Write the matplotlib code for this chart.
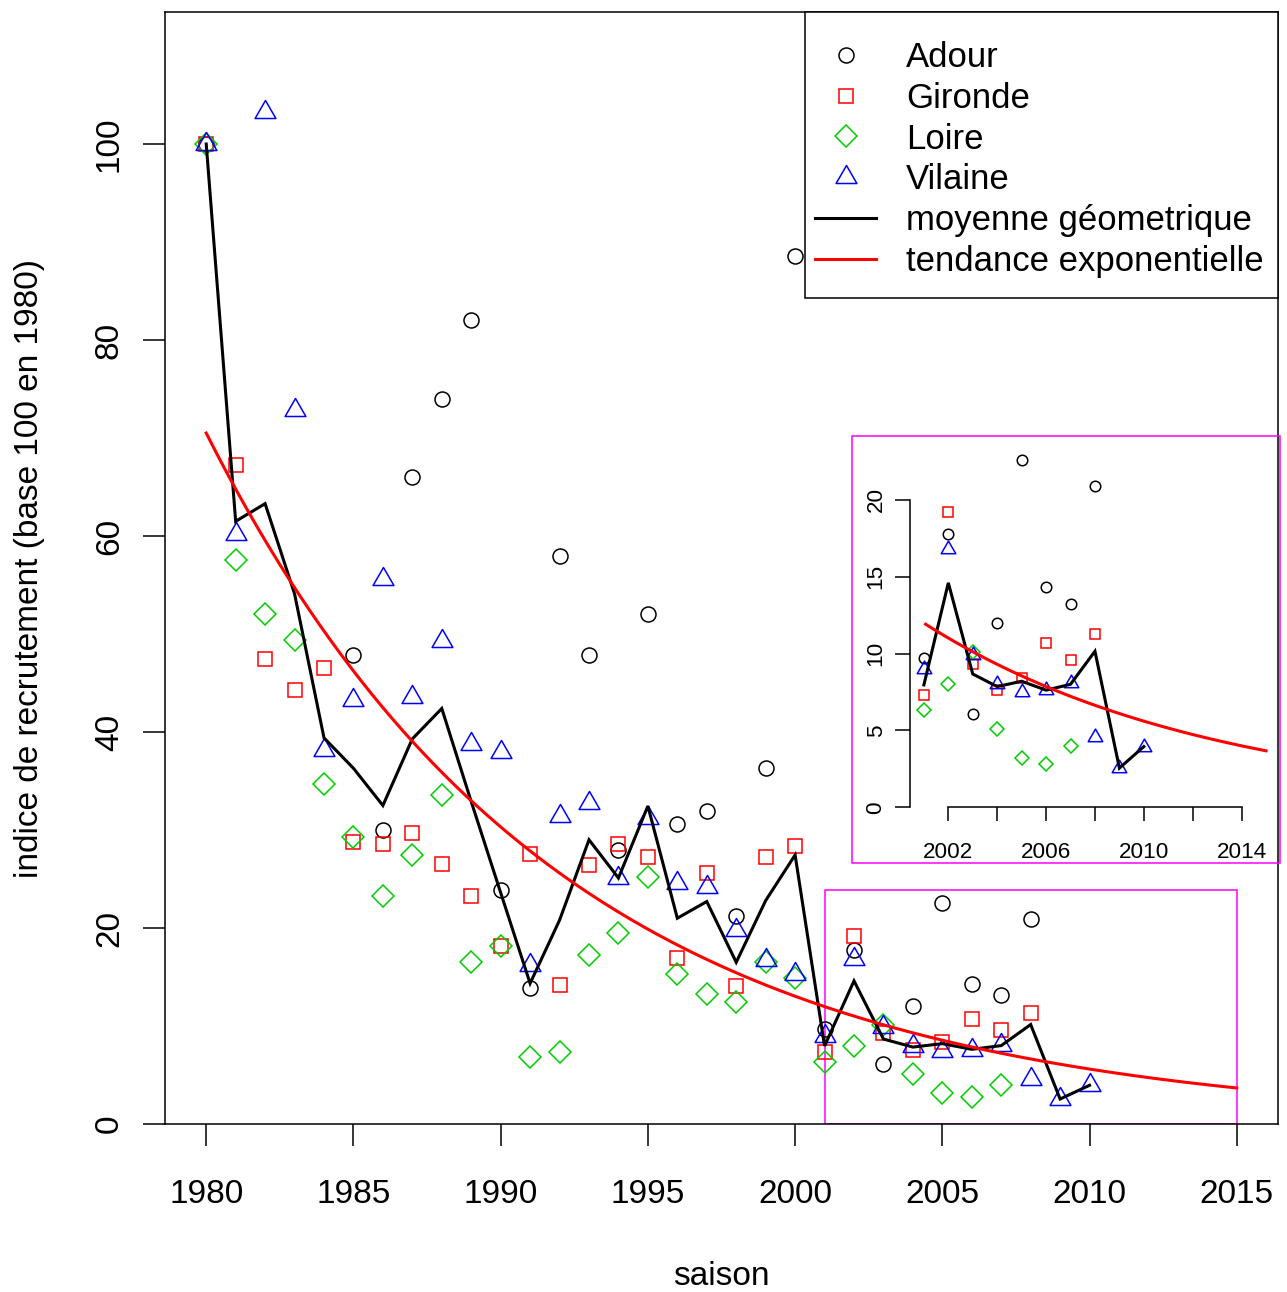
import numpy as np
import matplotlib
matplotlib.use("Agg")
import matplotlib.pyplot as plt
from matplotlib.path import Path
from matplotlib.patches import Rectangle
from matplotlib.lines import Line2D

plt.rcParams['font.family'] = ['Liberation Sans', 'DejaVu Sans']

nan = np.nan
saisons = list(range(1980, 2011))

# recruitment indices, base 100 in 1980 (nan = no survey that season)
adour = [100, nan, nan, nan, nan, 47.9, 30.0, 66.0, 74.0, 82.0,
         23.9, 13.9, 58.0, 47.9, 28.0, 52.0, 30.6, 31.9, 21.2, 36.3,
         88.6, 9.7, 17.8, 6.1, 12.0, 22.6, 14.3, 13.2, 20.9, nan, nan]
gironde = [100, 67.2, 47.4, 44.3, 46.5, 28.8, 28.6, 29.7, 26.5, 23.3,
           18.2, 27.6, 14.2, 26.4, 28.6, 27.2, 16.9, 25.6, 14.1, 27.2,
           28.4, 7.3, 19.2, 9.3, 7.6, 8.4, 10.7, 9.6, 11.3, nan, nan]
loire = [100, 57.6, 52.0, 49.4, 34.7, 29.3, 23.3, 27.5, 33.6, 16.5,
         18.2, 6.8, 7.3, 17.2, 19.5, 25.2, 15.3, 13.3, 12.5, 16.5,
         14.9, 6.3, 8.0, 10.1, 5.1, 3.2, 2.8, 4.0, nan, nan, nan]
vilaine = [100, 60.2, 103.3, 72.9, 38.2, 43.3, 55.6, 43.6, 49.3, 38.8,
           38.0, 16.2, 31.4, 32.8, 25.1, 31.2, 24.6, 24.2, 19.8, 16.7,
           15.3, 9.0, 16.8, 9.9, 8.0, 7.5, 7.6, 8.1, 4.6, 2.55, 3.95]
moyenne_geo = [100, 61.5, 63.3, 54.1, 39.4, 36.3, 32.5, 39.3, 42.4, 32.9,
               23.6, 14.35, 20.8, 29.0, 25.1, 32.45, 21.0, 22.7, 16.5, 22.8,
               27.45, 7.96, 14.6, 8.67, 7.85, 8.2, 7.62, 8.0, 10.15, 2.55, 3.95]

# exponential trend: value = tendance_1980 * exp(-tendance_taux * (year - 1980))
tendance_1980 = 70.5
tendance_taux = 0.0844
tendance_debut, tendance_fin = 1980, 2015

noms = ['Adour', 'Gironde', 'Loire', 'Vilaine']
lignes = ['moyenne géometrique', 'tendance exponentielle']

x_ticks = [1980, 1985, 1990, 1995, 2000, 2005, 2010, 2015]
y_ticks = [0, 20, 40, 60, 80, 100]
zoom_debut = 2001
zoom_x = (2001, 2015)
zoom_y = (0, 23.9)
inset_x_ticks = [2002, 2004, 2006, 2008, 2010, 2012, 2014]
inset_x_labels = ['2002', '', '2006', '', '2010', '', '2014']
inset_y_ticks = [0, 5, 10, 15, 20]

# ---------------------------------------------------------------- layout
W, H = 1287, 1292
DPI = 100
fig = plt.figure(figsize=(W / DPI, H / DPI), dpi=DPI)
fig.patch.set_facecolor('white')


def fx(px):
    return px / W


def fy(py):
    return 1 - py / H


# equilateral triangle centred on its centroid
tri = Path([(0, 0.5774), (-0.5, -0.2887), (0.5, -0.2887), (0, 0.5774)],
           [Path.MOVETO, Path.LINETO, Path.LINETO, Path.CLOSEPOLY])

couleurs = ['#000000', '#FF0000', '#00CD00', '#0000FF']
marqueurs = ['o', 's', 'D', tri]
tailles = [10.8, 10.0, 10.7, 17.3]
series = [adour, gironde, loire, vilaine]

annees = np.array(saisons, dtype=float)
t_fine = np.linspace(tendance_debut, tendance_fin, 300)
tendance = tendance_1980 * np.exp(-tendance_taux * (t_fine - 1980))


def draw_series(ax, sel, scale, lw):
    for vals, m, c, s in zip(series, marqueurs, couleurs, tailles):
        v = np.array(vals, dtype=float)[sel]
        ax.plot(annees[sel], v, ls='none', marker=m, ms=s * scale,
                mfc='none', mec=c, mew=1.1, clip_on=False, zorder=3)
    ax.plot(annees[sel], np.array(moyenne_geo)[sel], color='black',
            lw=lw, zorder=4, solid_joinstyle='miter')


# ---------------------------------------------------------------- main panel
ax = fig.add_axes([fx(165), fy(1124), (1278 - 165) / W, (1124 - 12) / H])
ax.set_xlim(1978.6, 2016.4)
ax.set_ylim(0, 113.47)
sel_all = np.ones(len(saisons), dtype=bool)
draw_series(ax, sel_all, 1.0, 2.2)
ax.plot(t_fine, tendance, color='#FF0000', lw=2.2, zorder=5)
ax.add_patch(Rectangle((zoom_x[0], zoom_y[0]), zoom_x[1] - zoom_x[0],
                       zoom_y[1] - zoom_y[0], fill=False,
                       edgecolor='#FF00FF', lw=1.1, zorder=2))

ax.set_xticks(x_ticks)
ax.set_yticks(y_ticks)
ax.set_xticklabels([str(t) for t in x_ticks])
ax.set_yticklabels([str(t) for t in y_ticks])
ax.tick_params(axis='both', direction='out', length=15.8, width=1.1,
               labelsize=24, colors='black')
ax.tick_params(axis='x', pad=24)
ax.tick_params(axis='y', pad=13)
for lab in ax.get_yticklabels():
    lab.set_rotation(90)
    lab.set_va('center')
for sp in ax.spines.values():
    sp.set_linewidth(1.1)
    sp.set_color('black')

fig.text(fx(721), fy(1285), 'saison', ha='center', va='baseline', fontsize=24)
fig.text(fx(30), fy(568), 'indice de recrutement (base 100 en 1980)',
         ha='center', va='center', rotation=90, fontsize=24)

# legend
handles = []
for m, c, s in zip(marqueurs, couleurs, tailles):
    handles.append(Line2D([], [], ls='none', marker=m, ms=s, mfc='none',
                          mec=c, mew=1.1))
handles.append(Line2D([], [], color='black', lw=2.2))
handles.append(Line2D([], [], color='#FF0000', lw=2.2))
ax.add_patch(Rectangle((fx(805), fy(298)), (1278 - 805) / W, (298 - 12) / H,
                       transform=fig.transFigure, facecolor='white',
                       edgecolor='black', lw=1.1, zorder=6, clip_on=False))
leg = ax.legend(handles, noms + lignes, loc='upper left',
                bbox_to_anchor=(fx(815), fy(41)),
                bbox_transform=fig.transFigure, frameon=False, fontsize=25,
                handlelength=61 / 34.7, handletextpad=30 / 34.7,
                labelspacing=0.225, borderpad=0, borderaxespad=0, numpoints=1)
leg.set_zorder(7)

# ---------------------------------------------------------------- inset
fig.add_artist(Rectangle((fx(852), fy(863)), 428 / W, 427 / H,
                         transform=fig.transFigure, fill=False,
                         edgecolor='#FF00FF', lw=1.1))
axi = fig.add_axes([fx(910.2), fy(807.3), (1279.7 - 910.2) / W,
                    (807.3 - 446) / H])
axi.set_facecolor('none')
axi.set_xlim(2000.44, 2015.56)
axi.set_ylim(0, 23.5)
sel_zoom = annees >= zoom_debut
draw_series(axi, sel_zoom, 0.7, 2.2)
t_zoom = t_fine[t_fine >= zoom_x[0]]
axi.plot(t_zoom, tendance_1980 * np.exp(-tendance_taux * (t_zoom - 1980)),
         color='#FF0000', lw=2.2, zorder=5)
axi.spines['top'].set_visible(False)
axi.spines['right'].set_visible(False)
axi.spines['left'].set_bounds(inset_y_ticks[0], inset_y_ticks[-1])
axi.spines['bottom'].set_bounds(inset_x_ticks[0], inset_x_ticks[-1])
for sp in ('left', 'bottom'):
    axi.spines[sp].set_linewidth(1.1)
axi.set_xticks(inset_x_ticks)
axi.set_xticklabels(inset_x_labels)
axi.set_yticks(inset_y_ticks)
axi.set_yticklabels([str(t) for t in inset_y_ticks])
axi.tick_params(axis='both', direction='out', width=1.1, labelsize=16.2,
                colors='black')
axi.tick_params(axis='x', length=10.3, pad=15)
axi.tick_params(axis='y', length=10.8, pad=6.2)
for lab in axi.get_yticklabels():
    lab.set_rotation(90)
    lab.set_va('center')

fig.savefig('out.png', dpi=DPI)
